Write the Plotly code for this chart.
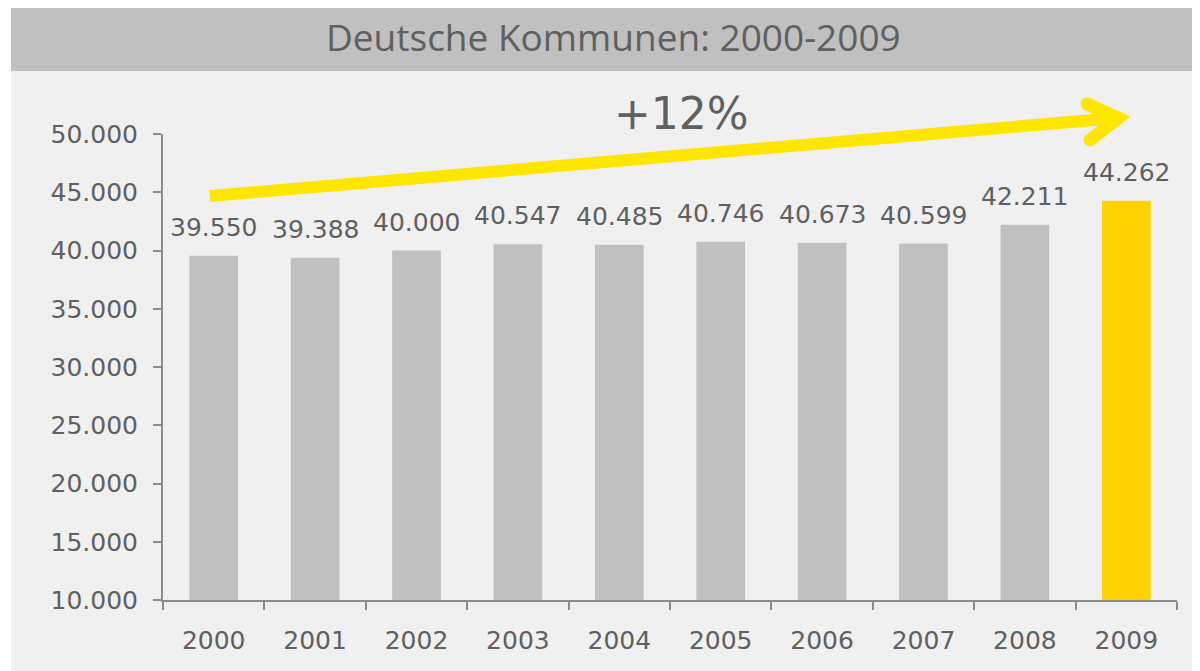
import plotly.graph_objects as go

years = ["2000", "2001", "2002", "2003", "2004", "2005", "2006", "2007", "2008", "2009"]
values = [39550, 39388, 40000, 40547, 40485, 40746, 40673, 40599, 42211, 44262]
bar_colors = ["#c0c0c0"] * 9 + ["#ffd200"]
title_text = "Deutsche Kommunen: 2000-2009"
growth_text = "+12%"

# page body has an 8px margin; design in screen pixels
OFF = 8
W, H = 1200 - OFF, 671 - OFF
ML, MR, MT, MB = 163 - OFF, 23, 134 - OFF, 71
PW, PH = W - ML - MR, H - MT - MB
X0, Y0 = 163, 600  # screen position of plot's bottom-left corner


def px(x):
    return (x - X0) / PW


def py(y):
    return (Y0 - y) / PH


def fmt(v):
    return f"{v:,}".replace(",", ".")


idx = list(range(len(years)))

fig = go.Figure()
fig.add_trace(go.Bar(
    x=idx, y=values, marker=dict(color=bar_colors, line=dict(width=0)),
    hoverinfo="skip", showlegend=False,
))

shapes = [
    dict(type="rect", xref="paper", yref="paper", x0=px(11), x1=px(1210), y0=py(71), y1=py(680),
         fillcolor="#f0f0f0", line=dict(width=0), layer="below"),
    dict(type="rect", xref="paper", yref="paper", x0=px(11), x1=px(1210), y0=py(6), y1=py(71),
         fillcolor="#c0c0c0", line=dict(width=0), layer="below"),
]

# arrow shaft
shapes.append(dict(type="path", xref="paper", yref="paper",
                   path=f"M {px(210)},{py(196)} L {px(1122)},{py(117.5)}",
                   line=dict(color="#ffe600", width=12), layer="above"))
# arrow head (chevron)
shapes.append(dict(type="path", xref="paper", yref="paper",
                   path=f"M {px(1087)},{py(104)} L {px(1118)},{py(118)} L {px(1090)},{py(140)}",
                   line=dict(color="#ffe600", width=13), layer="above"))
for cx, cy in [(1087, 104), (1090, 140)]:
    r = 6.5
    shapes.append(dict(type="circle", xref="paper", yref="paper",
                       x0=px(cx - r), x1=px(cx + r), y0=py(cy + r), y1=py(cy - r),
                       fillcolor="#ffe600", line=dict(width=0), layer="above"))

annotations = [
    dict(text=title_text, xref="paper", yref="paper", x=px(613), y=py(37),
         showarrow=False, xanchor="center", yanchor="middle",
         font=dict(family="Open Sans", size=37, color="#606060")),
    dict(text=growth_text, xref="paper", yref="paper", x=px(681), y=py(113),
         showarrow=False, xanchor="center", yanchor="middle",
         font=dict(family="DejaVu Sans", size=44, color="#606060")),
]
for i, v in zip(idx, values):
    annotations.append(dict(text=fmt(v), x=i, y=v, xref="x", yref="y",
                            showarrow=False, xanchor="center", yanchor="bottom", yshift=12,
                            font=dict(family="DejaVu Sans", size=25, color="#606060")))

fig.update_layout(
    width=W, height=H,
    margin=dict(l=ML, r=MR, t=MT, b=MB, pad=0, autoexpand=False),
    paper_bgcolor="#ffffff", plot_bgcolor="rgba(0,0,0,0)",
    separators=",.",
    bargap=0.52,
    shapes=shapes, annotations=annotations,
    font=dict(family="DejaVu Sans", size=25, color="#606060"),
    xaxis=dict(
        type="linear", range=[-0.5, len(years) - 0.5], autorange=False,
        tickmode="array", tickvals=idx, ticktext=years,
        ticks="", showline=True, linecolor="#8c8c8c", linewidth=2,
        showgrid=False, zeroline=False, ticklabelstandoff=17, automargin=False,
        tickangle=0,
        minor=dict(tickmode="array", tickvals=[i - 0.5 for i in idx] + [len(years) - 0.5],
                   ticks="outside", ticklen=8, tickwidth=2, tickcolor="#8c8c8c", showgrid=False),
        tickfont=dict(family="DejaVu Sans", size=25, color="#606060"),
    ),
    yaxis=dict(
        range=[10000, 50000], autorange=False, dtick=5000, tick0=10000, tickformat=",d",
        ticks="outside", ticklen=8, tickwidth=2, tickcolor="#8c8c8c",
        showline=True, linecolor="#8c8c8c", linewidth=2,
        showgrid=False, zeroline=False, ticklabelstandoff=10, automargin=False,
        tickfont=dict(family="DejaVu Sans", size=25, color="#606060"),
    ),
)

fig.write_html("out.html")
